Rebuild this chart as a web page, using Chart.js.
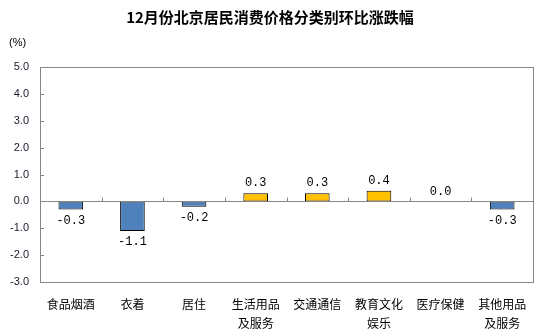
<!DOCTYPE html>
<html>
<head>
<meta charset="utf-8">
<script src="https://cdn.jsdelivr.net/npm/chart.js@4"></script>
<style>
  html, body { margin: 0; padding: 0; background: #fff; }
  #wrap { width: 557px; height: 334px; }
</style>
</head>
<body>
<div id="wrap"><canvas id="cpiChart"></canvas></div>
<script>
// Chart data
const categories = [
    '食品烟酒', '衣着', '居住', ['生活用品', '及服务'],
    '交通通信', ['教育文化', '娱乐'], '医疗保健', ['其他用品', '及服务']
];
const changes = [-0.3, -1.1, -0.2, 0.3, 0.3, 0.4, 0.0, -0.3];
const yTicks = [-3, -2, -1, 0, 1, 2, 3, 4, 5];

const chartTitle = '12月份北京居民消费价格分类别环比涨跌幅';
const unitLabel = '(%)';

// Title, frame, tick marks and value labels
const decorPlugin = {
    id: 'decor',
    afterDatasetsDraw(chart) {
        const ctx = chart.ctx;
        const area = chart.chartArea;
        const x = chart.scales.x;
        const y = chart.scales.y;
        const zeroY = Math.round(y.getPixelForValue(0)) + 0.5;

        ctx.save();
        ctx.strokeStyle = '#868686';
        ctx.lineWidth = 1;
        ctx.strokeRect(Math.round(area.left) + 0.5, Math.round(area.top) + 0.5,
            Math.round(area.right - area.left), Math.round(area.bottom - area.top));

        ctx.beginPath();
        ctx.moveTo(area.left, zeroY);
        ctx.lineTo(area.right, zeroY);
        // y tick marks (inside)
        yTicks.forEach(v => {
            const py = Math.round(y.getPixelForValue(v)) + 0.5;
            ctx.moveTo(area.left, py);
            ctx.lineTo(area.left + 4, py);
        });
        // x tick marks between categories, on the zero line
        for (let i = 1; i < categories.length; i++) {
            const px = Math.round((x.getPixelForValue(i - 1) + x.getPixelForValue(i)) / 2) + 0.5;
            ctx.moveTo(px, zeroY);
            ctx.lineTo(px, zeroY - 4);
        }
        ctx.stroke();

        // value labels
        ctx.fillStyle = '#000';
        ctx.font = '12px "Liberation Mono", "DejaVu Sans Mono", monospace';
        ctx.textAlign = 'center';
        chart.getDatasetMeta(0).data.forEach((bar, i) => {
            const v = changes[i];
            const txt = v.toFixed(1);
            if (v >= 0) {
                ctx.textBaseline = 'bottom';
                ctx.fillText(txt, bar.x, bar.y - 4);
            } else {
                ctx.textBaseline = 'top';
                ctx.fillText(txt, bar.x, bar.y + 5);
            }
        });

        // title and unit
        ctx.font = 'bold 15px "Noto Sans CJK SC", sans-serif';
        ctx.textBaseline = 'middle';
        ctx.fillText(chartTitle, 270, 17);
        ctx.font = '11px "Liberation Sans", Arial, sans-serif';
        ctx.textAlign = 'left';
        ctx.fillText(unitLabel, 9, 43);
        ctx.restore();
    }
};

new Chart(document.getElementById('cpiChart'), {
    type: 'bar',
    data: {
        labels: categories,
        datasets: [{
            data: changes,
            backgroundColor: changes.map(v => v >= 0 ? '#ffc000' : '#4f81bd'),
            borderColor: '#000',
            borderWidth: changes.map(v => v === 0 ? 0 : 1),
            borderSkipped: false,
            barPercentage: 0.8,
            categoryPercentage: 0.5
        }]
    },
    options: {
        responsive: true,
        maintainAspectRatio: false,
        animation: false,
        layout: { padding: { left: 0, right: 24, top: 67, bottom: 0 } },
        plugins: {
            legend: { display: false },
            tooltip: { enabled: false }
        },
        scales: {
            x: {
                grid: { display: false },
                border: { display: false },
                ticks: {
                    color: '#000',
                    padding: 5,
                    maxRotation: 0,
                    autoSkip: false,
                    font: { family: '"Noto Sans CJK SC", sans-serif', size: 12, lineHeight: 1.6 }
                },
                afterFit(scale) { scale.height = 52; }
            },
            y: {
                min: -3,
                max: 5,
                grid: { display: false, drawTicks: false },
                border: { display: false },
                afterBuildTicks(scale) { scale.ticks = yTicks.map(v => ({ value: v })); },
                ticks: {
                    color: '#1a1a2e',
                    padding: 11,
                    font: { family: '"Liberation Sans", Arial, sans-serif', size: 11 },
                    callback: v => v.toFixed(1)
                },
                afterFit(scale) { scale.width = 40; }
            }
        }
    },
    plugins: [decorPlugin]
});
</script>
</body>
</html>
